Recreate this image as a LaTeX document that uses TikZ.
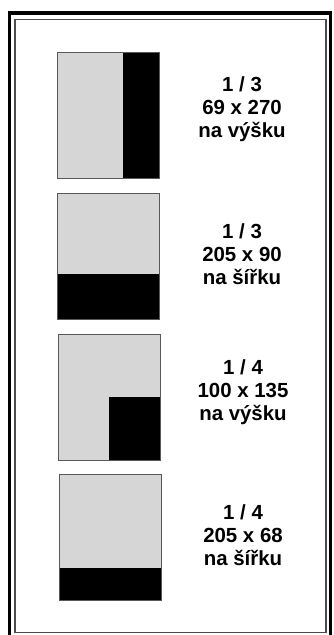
\documentclass[tikz,border=0pt]{standalone}
\usepackage{fontspec}
\setmainfont{Liberation Sans}
\usetikzlibrary{positioning}

\begin{document}
\begin{tikzpicture}[x=1bp, y=-1bp,
  panel/.style={draw=black!65, line width=0.9bp, fill=black!16, minimum width=102bp, minimum height=126bp, inner sep=0pt, outer sep=0pt},
  part/.style={fill=black},
  caption/.style={align=center, font=\bfseries\fontsize{20.5}{23}\selectfont, inner sep=0pt}]
  \useasboundingbox (0,0) rectangle (333,635);
  % frame
  \draw[line width=3.6bp] (9.3,13) rectangle (330.5,640);
  \draw[line width=1.2bp, black!70] (15,19.3) rectangle (326,632.8);
  % 1/3 na vysku
  \node[panel, anchor=north west] (p1) at (57,52.5) {};
  \fill[part] (122.5,0 |- p1.north) rectangle (p1.south east);
  \draw[black!65, line width=0.9bp] (p1.north west) rectangle (p1.south east);
  \node[caption] (t1) at (242,109) {1 / 3\\69 x 270\\na výšku};
  % 1/3 na sirku
  \node[panel, anchor=north west] (p2) at (57,193.5) {};
  \fill[part] (p2.west |- 0,274) rectangle (p2.south east);
  \draw[black!65, line width=0.9bp] (p2.north west) rectangle (p2.south east);
  \node[caption] (t2) at (242,254) {1 / 3\\205 x 90\\na šířku};
  % 1/4 na vysku
  \node[panel, anchor=north west] (p3) at (58,334) {};
  \fill[part] (109,397) rectangle (p3.south east);
  \draw[black!65, line width=0.9bp] (p3.north west) rectangle (p3.south east);
  \node[caption] (t3) at (243,392) {1 / 4\\100 x 135\\na výšku};
  % 1/4 na sirku
  \node[panel, anchor=north west] (p4) at (59.5,474.5) {};
  \fill[part] (p4.west |- 0,568) rectangle (p4.south east);
  \draw[black!65, line width=0.9bp] (p4.north west) rectangle (p4.south east);
  \node[caption] (t4) at (243,535) {1 / 4\\205 x 68\\na šířku};
\end{tikzpicture}
\end{document}
